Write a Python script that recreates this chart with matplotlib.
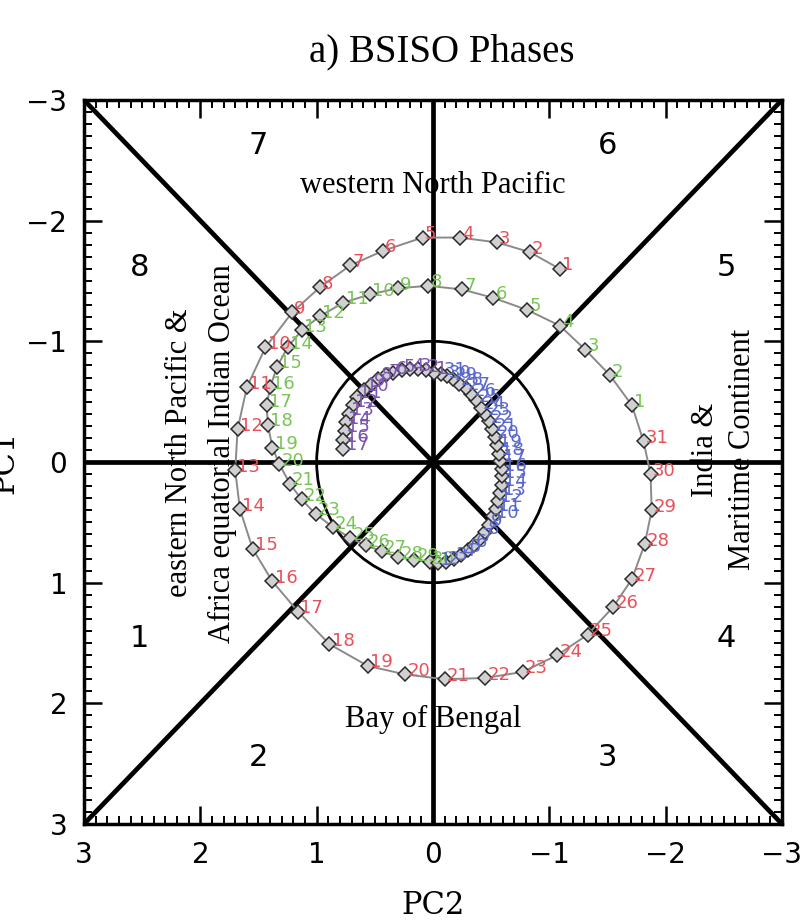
import matplotlib
matplotlib.use("Agg")
import matplotlib.pyplot as plt
from matplotlib.patches import Circle
from matplotlib.ticker import MultipleLocator

# ---- daily BSISO index (PC2, PC1) by month ----
may_pc2 = [-1.09, -0.83, -0.55, -0.23, 0.09, 0.43, 0.71, 0.97, 1.21, 1.44,
           1.60, 1.68, 1.70, 1.66, 1.55, 1.38, 1.16, 0.89, 0.56, 0.24,
           -0.10, -0.45, -0.77, -1.07, -1.33, -1.55, -1.71, -1.82, -1.88, -1.87, -1.81]
may_pc1 = [-1.60, -1.74, -1.82, -1.86, -1.86, -1.75, -1.63, -1.45, -1.24, -0.95,
           -0.62, -0.27, 0.07, 0.39, 0.72, 0.99, 1.24, 1.51, 1.69, 1.76,
           1.80, 1.79, 1.74, 1.60, 1.43, 1.20, 0.97, 0.68, 0.40, 0.10, -0.17]

jun_pc2 = [-1.71, -1.52, -1.31, -1.09, -0.81, -0.52, -0.25, 0.04, 0.30, 0.54,
           0.77, 0.97, 1.13, 1.25, 1.34, 1.40, 1.43, 1.42, 1.38, 1.32,
           1.23, 1.13, 1.01, 0.86, 0.71, 0.58, 0.44, 0.30, 0.16, 0.03]
jun_pc1 = [-0.47, -0.72, -0.93, -1.13, -1.26, -1.36, -1.43, -1.46, -1.44, -1.39,
           -1.32, -1.21, -1.09, -0.95, -0.79, -0.62, -0.47, -0.31, -0.12, 0.02,
           0.18, 0.31, 0.43, 0.54, 0.63, 0.69, 0.74, 0.79, 0.81, 0.83]

jul_pc2 = [-0.04, -0.11, -0.18, -0.24, -0.30, -0.35, -0.40, -0.45, -0.48, -0.52,
           -0.54, -0.56, -0.58, -0.59, -0.59, -0.59, -0.58, -0.57, -0.55, -0.53,
           -0.51, -0.48, -0.45, -0.41, -0.37, -0.33, -0.28, -0.22, -0.17, -0.12, -0.07]
jul_pc1 = [0.84, 0.83, 0.80, 0.77, 0.73, 0.69, 0.64, 0.58, 0.52, 0.45,
           0.39, 0.32, 0.26, 0.19, 0.12, 0.06, -0.01, -0.07, -0.14, -0.21,
           -0.27, -0.34, -0.40, -0.45, -0.51, -0.56, -0.61, -0.65, -0.69, -0.71, -0.73]

aug_pc2 = [-0.01, 0.06, 0.13, 0.20, 0.27, 0.34, 0.40, 0.47, 0.53, 0.59,
           0.65, 0.69, 0.72, 0.75, 0.76, 0.77, 0.77]
aug_pc1 = [-0.74, -0.76, -0.77, -0.77, -0.76, -0.74, -0.72, -0.69, -0.64, -0.60,
           -0.54, -0.47, -0.40, -0.33, -0.26, -0.18, -0.11]

month_colors = ["#e8505a", "#78c456", "#5a68cc", "#7b55b0"]

# ---- phase labels and regions ----
phase_names = ["1", "2", "3", "4", "5", "6", "7", "8"]
phase_pc2 = [2.52, 1.50, -1.50, -2.52, -2.52, -1.50, 1.50, 2.52]
phase_pc1 = [1.46, 2.45, 2.45, 1.46, -1.61, -2.62, -2.62, -1.61]

tick_vals = [-3, -2, -1, 0, 1, 2, 3]

fig = plt.figure(figsize=(8.09, 9.24), dpi=100)
ax = fig.add_axes([84 / 809, 1 - 824 / 924, 698 / 809, 724 / 924])

ax.set_xlim(3, -3)
ax.set_ylim(3, -3)

# phase boundary lines and unit circle
lk = dict(color="black", lw=3.4, solid_capstyle="butt", zorder=2)
ax.plot([-3, 3], [0, 0], **lk)
ax.plot([0, 0], [-3, 3], **lk)
ax.plot([-3, 3], [-3, 3], **lk)
ax.plot([-3, 3], [3, -3], **lk)
ax.add_patch(Circle((0, 0), 1.0, fill=False, lw=2.0, ec="black", zorder=2))

# trajectory: one continuous path through all months
all_pc2 = may_pc2 + jun_pc2 + jul_pc2 + aug_pc2
all_pc1 = may_pc1 + jun_pc1 + jul_pc1 + aug_pc1
ax.plot(all_pc2, all_pc1, color="#8a8a8a", lw=1.4, zorder=3)
ax.plot(all_pc2, all_pc1, ls="none", marker="D", ms=7, mfc="#d0d0d0",
        mec="#2a2a2a", mew=1.1, zorder=4)

for xs, ys, col in [(may_pc2, may_pc1, month_colors[0]),
                    (jun_pc2, jun_pc1, month_colors[1]),
                    (jul_pc2, jul_pc1, month_colors[2]),
                    (aug_pc2, aug_pc1, month_colors[3])]:
    for day, (x, y) in enumerate(zip(xs, ys), start=1):
        ax.annotate(str(day), (x, y), xytext=(1.5, 2.5), textcoords="offset points",
                    ha="left", va="center", fontsize=13, color=col, zorder=5,
                    family="DejaVu Sans")

# phase numbers
for name, x, y in zip(phase_names, phase_pc2, phase_pc1):
    ax.text(x, y, name, ha="center", va="center", fontsize=22, family="DejaVu Sans")

serif = "Liberation Serif"
ax.text(0, -2.29, "western North Pacific", ha="center", va="center",
        fontsize=22, family=serif)
ax.text(0, 2.13, "Bay of Bengal", ha="center", va="center", fontsize=22, family=serif)
ax.text(2.18, -0.08, "eastern North Pacific &", rotation=90, ha="center",
        va="center", fontsize=22, family=serif)
ax.text(1.81, -0.07, "Africa equatorial Indian Ocean", rotation=90, ha="center",
        va="center", fontsize=22, family=serif)
ax.text(-2.34, -0.10, "India &", rotation=90, ha="center", va="center",
        fontsize=22, family=serif)
ax.text(-2.66, -0.10, "Maritime Continent", rotation=90, ha="center",
        va="center", fontsize=22, family=serif)

# axes styling
ax.set_xticks(tick_vals)
ax.set_yticks(tick_vals)
ax.xaxis.set_minor_locator(MultipleLocator(0.1))
ax.yaxis.set_minor_locator(MultipleLocator(0.1))
ax.tick_params(which="both", direction="in", top=True, right=True)
ax.tick_params(which="major", length=13, width=1.8, labelsize=20, pad=12)
ax.tick_params(which="minor", length=6, width=1.4)
for lab in ax.get_xticklabels() + ax.get_yticklabels():
    lab.set_family("DejaVu Sans")
for sp in ax.spines.values():
    sp.set_linewidth(2.5)

fig.text(433 / 809, 1 - 905 / 924, "PC2", ha="center", va="center",
         fontsize=22, family="DejaVu Serif")
fig.text(0.006, 1 - 462 / 924, "PC1", ha="center", va="center", rotation=90,
         fontsize=22, family="DejaVu Serif")
fig.text(442 / 809, 1 - 52 / 924, "a) BSISO Phases", ha="center", va="center",
         fontsize=28, family=serif)

fig.savefig("out.png", dpi=100)
